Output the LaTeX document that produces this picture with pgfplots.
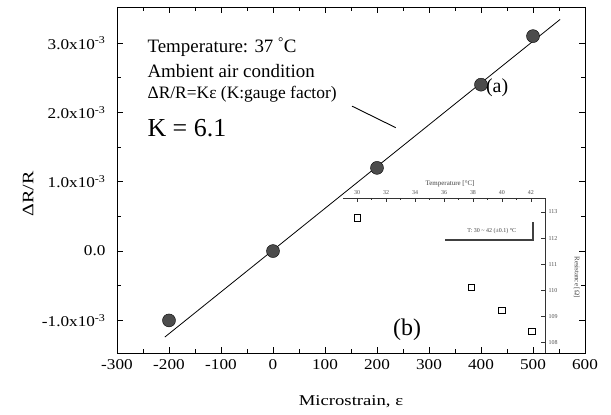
\documentclass[border=0pt]{standalone}
\usepackage{pgfplots}
\pgfplotsset{compat=1.18}
\usepackage{fontspec}
\setmainfont{Liberation Serif}
\newfontfamily\tickfont{Liberation Serif}[FakeStretch=1.15]
\newfontfamily\labfont{Liberation Serif}[FakeStretch=1.25]
\begin{document}
\begin{tikzpicture}[x=1bp,y=1bp]
\useasboundingbox (-117,-61) rectangle (494,353);
\begin{axis}[at={(0,0)}, anchor=south west, scale only axis,
  width=468bp, height=346bp,
  xmin=-300, xmax=600, ymin=-1.47, ymax=3.52,
  xtick={-300,-200,...,600}, minor x tick num=1,
  ytick={-1,0,1,2,3},
  yticklabels={-1.0x10\textsuperscript{-3},0.0,1.0x10\textsuperscript{-3},2.0x10\textsuperscript{-3},3.0x10\textsuperscript{-3}},
  minor y tick num=1,
  tick align=inside, major tick length=6bp, minor tick length=4bp,
  every tick/.style={black, line width=0.9pt},
  axis line style={line width=1pt},
  /pgf/number format/assume math mode=true,
  ticklabel style={font=\tickfont\fontsize{15}{17}\selectfont},
  yticklabel style={xshift=-8bp},
  xticklabel style={yshift=-3bp},
  xlabel={Microstrain, ε}, ylabel={ΔR/R},
  xlabel style={font=\labfont\fontsize{15}{18}\selectfont, at={(axis description cs:0.5,-0.142)}, anchor=center},
  ylabel style={font=\labfont\fontsize{16}{18}\selectfont, at={(axis description cs:-0.19,0.46)}, anchor=center},
  clip=false]
\addplot[black, line width=0.8pt] coordinates {(-208,-1.24) (552,3.34)};
\addplot[only marks, mark=*, mark size=6.5bp, mark options={fill=black!70, draw=black}] coordinates {
  (-200,-1.0) (0,0.0) (200,1.2) (400,2.4) (500,3.1)};
\node[anchor=west, font=\fontsize{19}{22}\selectfont] at (axis cs:-248,2.94) {Temperature: 37 \textsuperscript{°}C};
\node[anchor=west, font=\fontsize{19}{22}\selectfont] at (axis cs:-248,2.60) {Ambient air condition};
\node[anchor=west, font=\fontsize{17.5}{22}\selectfont] at (axis cs:-248,2.26) {ΔR/R=Kε (K:gauge factor)};
\node[anchor=west, font=\fontsize{26}{30}\selectfont] at (axis cs:-248,1.77) {K = 6.1};
\draw[black, line width=0.9pt] (axis cs:152,2.09) -- (axis cs:236,1.78);
\node[font=\fontsize{20}{24}\selectfont] at (axis cs:431,2.36) {(a)};
\node[font=\fontsize{24}{28}\selectfont] at (axis cs:258,-1.14) {(b)};
\end{axis}
\begin{axis}[at={(226bp,0bp)}, anchor=south west, scale only axis,
  width=202bp, height=155bp,
  xmin=29.03, xmax=42.97, ymin=107.58, ymax=113.54,
  axis x line*=top, axis y line*=right,
  xtick={30,32,...,42}, ytick={108,109,...,113}, minor x tick num=1,
  tick align=inside, major tick length=4bp, minor tick length=2bp,
  every tick/.style={black!80, line width=0.6pt},
  axis line style={black!80, line width=0.8pt},
  /pgf/number format/assume math mode=true,
  ticklabel style={font=\fontsize{6}{7}\selectfont, black!70},
  xlabel={Temperature [°C]}, ylabel={Resistance [Ω]},
  xlabel style={font=\fontsize{7}{8}\selectfont, black!75, at={(axis description cs:0.53,1)}, yshift=14bp, anchor=center},
  ylabel style={font=\fontsize{7}{8}\selectfont, black!75, at={(axis description cs:1.158,0.49)}, anchor=center, rotate=180},
  clip=false]
\addplot[only marks, mark=square, mark size=3.2bp, mark options={draw=black, line width=0.7pt}] coordinates {
  (30,112.77) (37.9,110.1) (40,109.23) (42.07,108.42)};
\draw[black!75, line width=1.4pt] (axis cs:36.07,111.92) -- (axis cs:42.14,111.92) -- (axis cs:42.14,112.62);
\node[font=\fontsize{6}{7}\selectfont, black!75] at (axis cs:39.3,112.27) {T: 30 \textasciitilde{} 42 (±0.1) °C};
\end{axis}
\end{tikzpicture}
\end{document}
